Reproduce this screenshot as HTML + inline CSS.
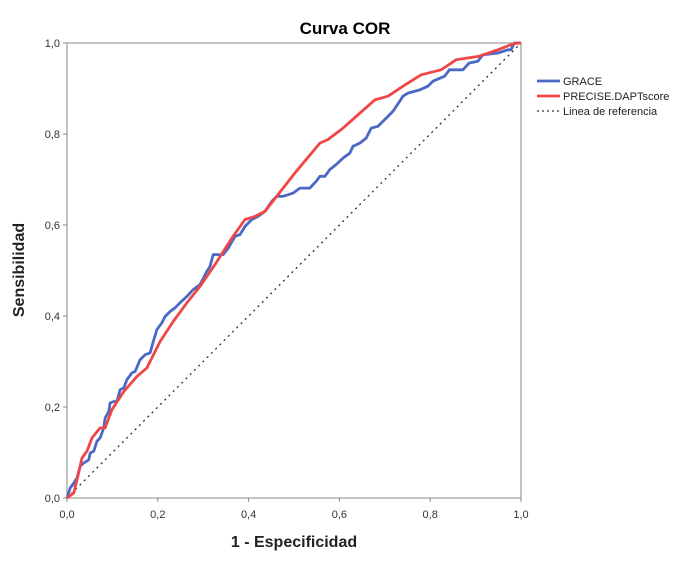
<!DOCTYPE html>
<html><head><meta charset="utf-8"><style>
body{margin:0;background:#fff;font-family:"Liberation Sans",sans-serif}
</style></head><body>
<svg id="c" width="691" height="557" xmlns="http://www.w3.org/2000/svg"></svg>
<script>
const xTicks=[0,0.2,0.4,0.6,0.8,1.0];
const yTicks=[0,0.2,0.4,0.6,0.8,1.0];
const graceX=[0,.007,.015,.022,.029,.037,.048,.051,.059,.066,.073,.081,.084,.092,.095,.103,.110,.117,.125,.132,.143,.150,.161,.172,.183,.190,.198,.209,.216,.227,.238,.249,.264,.278,.293,.308,.315,.322,.344,.355,.370,.381,.392,.407,.421,.436,.451,.462,.476,.498,.513,.535,.549,.557,.568,.579,.593,.608,.623,.630,.645,.659,.670,.685,.703,.718,.740,.751,.777,.795,.806,.832,.842,.872,.886,.905,.916,.949,.971,.978,.985,1];
const graceY=[0,.022,.033,.044,.070,.077,.084,.099,.103,.125,.132,.154,.176,.190,.209,.212,.212,.238,.242,.260,.275,.278,.304,.315,.319,.344,.370,.385,.399,.410,.418,.429,.443,.458,.469,.498,.509,.535,.535,.549,.575,.579,.597,.612,.619,.630,.652,.663,.663,.670,.681,.681,.696,.707,.707,.722,.733,.747,.758,.773,.780,.791,.813,.817,.835,.850,.883,.890,.897,.905,.916,.927,.941,.941,.956,.960,.974,.978,.985,.985,1,1];
const preciseX=[0,.015,.022,.033,.044,.055,.073,.084,.099,.125,.154,.176,.205,.234,.264,.293,.326,.363,.392,.414,.436,.465,.505,.557,.575,.608,.678,.707,.740,.780,.824,.857,.908,.949,.985,1];
const preciseY=[0,.011,.040,.088,.103,.132,.154,.154,.194,.234,.267,.286,.344,.388,.429,.465,.513,.571,.612,.619,.630,.667,.718,.780,.788,.813,.875,.883,.905,.930,.941,.963,.971,.985,.999,1];
const X0=67,X1=521,Y0=498,Y1=43;
const sx=v=>X0+v*(X1-X0), sy=v=>Y0-v*(Y0-Y1);
const svg=document.getElementById('c');const NS='http://www.w3.org/2000/svg';
function mk(t,a,txt){const e=document.createElementNS(NS,t);for(const k in a)e.setAttribute(k,a[k]);if(txt!=null)e.textContent=txt;svg.appendChild(e);return e;}
let e;
e=mk('text',{x:345,y:34,'text-anchor':'middle','font-size':17,'font-weight':'bold',fill:'#000'},'Curva COR');


e=mk('rect',{x:X0,y:Y1,width:X1-X0,height:Y0-Y1,fill:'none',stroke:'#888','stroke-width':1});


xTicks.forEach(t=>{
 mk('line',{x1:sx(t),x2:sx(t),y1:Y0,y2:Y0+4,stroke:'#888'});
 e=mk('text',{x:sx(t),y:Y0+20,'text-anchor':'middle','font-size':11,fill:'#333'},t.toFixed(1).replace('.',','));
 
 
});
yTicks.forEach(t=>{
 mk('line',{x1:X0-4,x2:X0,y1:sy(t),y2:sy(t),stroke:'#888'});
 e=mk('text',{x:X0-7,y:sy(t)+4,'text-anchor':'end','font-size':11,fill:'#333'},t.toFixed(1).replace('.',','));
 
 
});
e=mk('text',{x:294,y:547,'text-anchor':'middle','font-size':16,'font-weight':'bold',fill:'#222'},'1 - Especificidad');


e=mk('text',{x:0,y:0,transform:'translate(24,270) rotate(-90)','text-anchor':'middle','font-size':16,'font-weight':'bold',fill:'#222'},'Sensibilidad');


e=mk('line',{x1:sx(0),y1:sy(0),x2:sx(1),y2:sy(1),stroke:'#333','stroke-width':1.3,'stroke-dasharray':'2,4'});


function pts(xs,ys){return xs.map((v,i)=>sx(v).toFixed(1)+','+sy(ys[i]).toFixed(1)).join(' ');}
e=mk('polyline',{points:pts(graceX,graceY),fill:'none',stroke:'#4a68c4','stroke-width':2.8,'stroke-linejoin':'round'});


e=mk('polyline',{points:pts(preciseX,preciseY),fill:'none',stroke:'#ef4747','stroke-width':2.8,'stroke-linejoin':'round'});


const leg=[['GRACE','#4a68c4',null],['PRECISE.DAPTscore','#ef4747',null],['Linea de referencia','#333','2,3']];
leg.forEach((l,i)=>{
 const y=81+i*15;
 const a={x1:537,x2:560,y1:y,y2:y,stroke:l[1],'stroke-width':l[2]?1.3:2.8};
 if(l[2])a['stroke-dasharray']=l[2];
 mk('line',a);
 e=mk('text',{x:563,y:y+4,'font-size':11,fill:'#222'},l[0]);
 
 
});
</script>
</body></html>
